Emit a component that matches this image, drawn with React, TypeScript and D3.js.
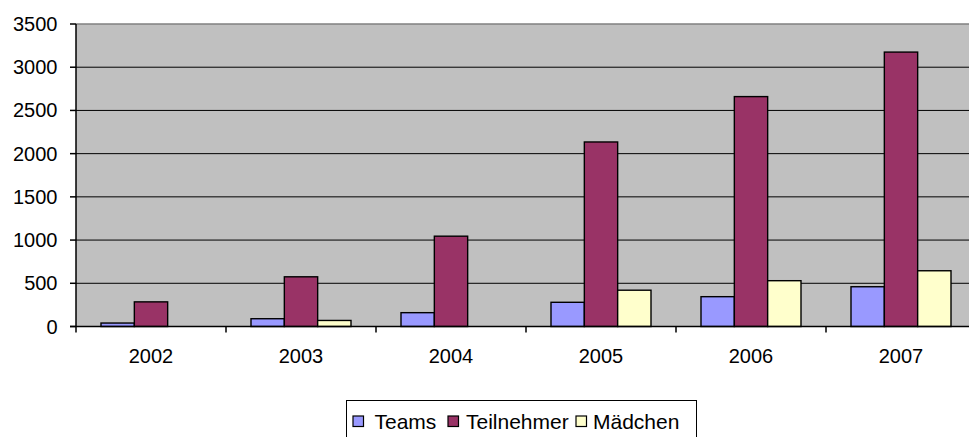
import React from "react";
import * as d3 from "d3";

const years = ["2002", "2003", "2004", "2005", "2006", "2007"];
const seriesNames = ["Teams", "Teilnehmer", "Mädchen"];
const teams = [40, 90, 160, 280, 345, 460];
const teilnehmer = [285, 575, 1045, 2135, 2660, 3175];
const maedchen = [0, 70, 0, 420, 530, 645];
const yTicks = [0, 500, 1000, 1500, 2000, 2500, 3000, 3500];
const colors = ["#9999ff", "#993366", "#ffffcc"];

const W = 969;
const H = 437;
const FONT = "'Liberation Sans', Arial, sans-serif";

export default function App() {
  const left = 76;
  const top = 24;
  const bottom = 326.5;
  const right = left + 900;

  const x = d3.scaleBand<string>().domain(years).range([left, right]);
  const y = d3.scaleLinear().domain([0, 3500]).range([bottom, top]);
  const bw = x.bandwidth() / 4.5;
  const inner = d3
    .scaleBand<string>()
    .domain(seriesNames)
    .range([0.75 * bw, 3.75 * bw]);

  const data = [teams, teilnehmer, maedchen];

  const legendItems = [
    { name: "Teams", sq: 353, tx: 374.5 },
    { name: "Teilnehmer", sq: 448, tx: 466 },
    { name: "Mädchen", sq: 576, tx: 593 },
  ];

  return (
    <div style={{ position: "absolute", left: 0, top: 0 }}>
      <svg width={W} height={H} style={{ display: "block" }}>
        <rect x={0} y={0} width={W} height={H} fill="#ffffff" />
        <clipPath id="clip">
          <rect x={0} y={0} width={W} height={H} />
        </clipPath>
        <g clipPath="url(#clip)">
          <rect
            x={left}
            y={top}
            width={right - left}
            height={bottom - top}
            fill="#c0c0c0"
          />
          <line x1={left} x2={right} y1={top} y2={top} stroke="#808080" strokeWidth={1.5} />
          {yTicks.slice(1, -1).map((t) => (
            <line
              key={t}
              x1={left}
              x2={right}
              y1={y(t)}
              y2={y(t)}
              stroke="#000"
              strokeWidth={1}
            />
          ))}
          {years.map((yr, i) =>
            seriesNames.map((s, j) => {
              const v = data[j][i];
              if (v <= 0) return null;
              const bx = (x(yr) as number) + (inner(s) as number);
              return (
                <rect
                  key={yr + s}
                  x={bx}
                  y={y(v)}
                  width={inner.bandwidth()}
                  height={y(0) - y(v)}
                  fill={colors[j]}
                  stroke="#000"
                  strokeWidth={1.4}
                />
              );
            })
          )}
          <line x1={left} x2={left} y1={top} y2={bottom + 6} stroke="#000" strokeWidth={1.5} />
          <line x1={left - 6} x2={right} y1={bottom} y2={bottom} stroke="#000" strokeWidth={1.5} />
          {yTicks.map((t) => (
            <g key={"yt" + t}>
              <line x1={left - 6} x2={left} y1={y(t)} y2={y(t)} stroke="#000" strokeWidth={1.5} />
              <text
                x={57.5}
                y={y(t) + 7}
                textAnchor="end"
                fontFamily={FONT}
                fontSize={20}
                fill="#000"
              >
                {t}
              </text>
            </g>
          ))}
          {years.map((yr) => (
            <g key={"xt" + yr}>
              <line
                x1={(x(yr) as number) + x.bandwidth()}
                x2={(x(yr) as number) + x.bandwidth()}
                y1={bottom}
                y2={bottom + 6}
                stroke="#000"
                strokeWidth={1.5}
              />
              <text
                x={(x(yr) as number) + x.bandwidth() / 2}
                y={363}
                textAnchor="middle"
                fontFamily={FONT}
                fontSize={20}
                fill="#000"
              >
                {yr}
              </text>
            </g>
          ))}
          <rect x={346.5} y={400.5} width={350} height={50} fill="#fff" stroke="#000" strokeWidth={1} />
          {legendItems.map((it, j) => (
            <g key={it.name}>
              <rect
                x={it.sq}
                y={416}
                width={10.5}
                height={10.5}
                fill={colors[j]}
                stroke="#000"
                strokeWidth={1.2}
              />
              <text x={it.tx} y={428.5} fontFamily={FONT} fontSize={21} fill="#000">
                {it.name}
              </text>
            </g>
          ))}
        </g>
      </svg>
    </div>
  );
}
